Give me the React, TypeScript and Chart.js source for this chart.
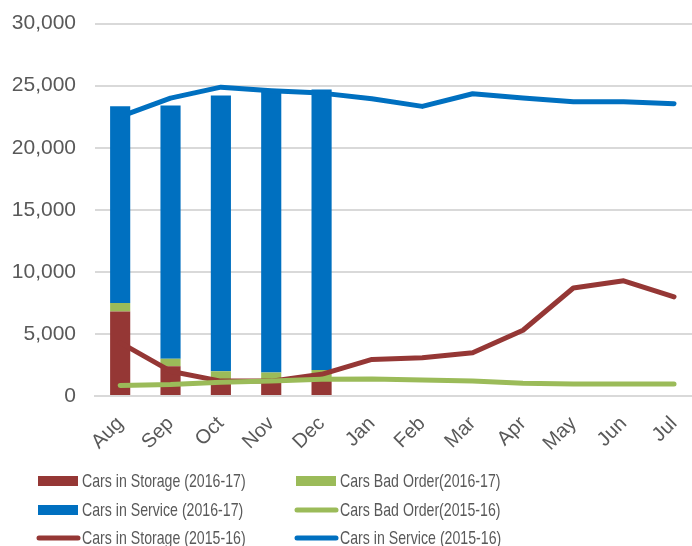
import React, { useEffect, useRef } from "react";
import { Chart, registerables } from "chart.js";

Chart.register(...registerables);

const months = ["Aug", "Sep", "Oct", "Nov", "Dec", "Jan", "Feb", "Mar", "Apr", "May", "Jun", "Jul"];

// 2016-17 stacked bars (only Aug–Dec reported)
const storage1617 = [6800, 2400, 1300, 1200, 1500, null, null, null, null, null, null, null];
const badOrder1617 = [700, 600, 700, 700, 600, null, null, null, null, null, null, null];
const service1617 = [15850, 20400, 22200, 22600, 22600, null, null, null, null, null, null, null];

// 2015-16 lines
const badOrder1516 = [850, 930, 1100, 1200, 1350, 1370, 1290, 1200, 1020, 970, 970, 970];
const storage1516 = [4300, 2000, 1200, 1200, 1750, 2950, 3080, 3480, 5300, 8700, 9280, 7990];
const service1516 = [22500, 24000, 24880, 24600, 24400, 23950, 23330, 24350, 24000, 23700, 23700, 23550];

const yTicks = [0, 5000, 10000, 15000, 20000, 25000, 30000];

const RED = "#953735";
const GREEN = "#9BBB59";
const BLUE = "#0070C0";
const TEXT = "#595959";
const GRID = "#D9D9D9";
const FONT = "'Liberation Sans', Arial, sans-serif";
const SHIFT = 8; // canvas is drawn 8px above the page top

const legendPlugin = {
  id: "gridLegend",
  afterDraw(chart: any) {
    const ctx = chart.ctx;
    const ds = chart.data.datasets;
    const colX = [38, 296];
    const rowY = [481, 510, 538].map((v) => v + SHIFT);
    ctx.save();
    ds.forEach((d: any, i: number) => {
      const col = i % 2;
      const row = Math.floor(i / 2);
      const x = colX[col];
      const y = rowY[row];
      if (d.type === "bar") {
        ctx.fillStyle = d.backgroundColor;
        ctx.fillRect(x, y - 5, 40, 10);
      } else {
        ctx.strokeStyle = d.borderColor;
        ctx.lineWidth = 5;
        ctx.lineCap = "round";
        ctx.beginPath();
        ctx.moveTo(x + 1, y);
        ctx.lineTo(x + 40, y);
        ctx.stroke();
      }
      ctx.save();
      ctx.fillStyle = TEXT;
      ctx.font = "18.5px " + FONT;
      ctx.textBaseline = "middle";
      ctx.textAlign = "left";
      ctx.translate(x + 44, y + 1);
      ctx.scale(0.765, 1);
      ctx.fillText(d.label, 0, 0);
      ctx.restore();
    });
    ctx.restore();
  },
};

export default function App() {
  const ref = useRef<HTMLCanvasElement | null>(null);
  useEffect(() => {
    if (!ref.current) return;
    const lineCommon = {
      type: "line" as const,
      borderWidth: 5,
      pointRadius: 0,
      tension: 0,
      borderCapStyle: "round" as const,
      borderJoinStyle: "round" as const,
      fill: false,
      order: 0,
    };
    const chart = new Chart(ref.current, {
      type: "bar",
      data: {
        labels: months,
        datasets: [
          { type: "bar", label: "Cars in Storage (2016-17)", data: storage1617, backgroundColor: RED, stack: "bars", order: 1 },
          { type: "bar", label: "Cars Bad Order(2016-17)", data: badOrder1617, backgroundColor: GREEN, stack: "bars", order: 1 },
          { type: "bar", label: "Cars in Service (2016-17)", data: service1617, backgroundColor: BLUE, stack: "bars", order: 1 },
          { ...lineCommon, label: "Cars Bad Order(2015-16)", data: badOrder1516, borderColor: GREEN, backgroundColor: GREEN, stack: "l1" },
          { ...lineCommon, label: "Cars in Storage (2015-16)", data: storage1516, borderColor: RED, backgroundColor: RED, stack: "l2" },
          { ...lineCommon, label: "Cars in Service (2015-16)", data: service1516, borderColor: BLUE, backgroundColor: BLUE, stack: "l3" },
        ] as any,
      },
      options: {
        responsive: false,
        animation: false,
        devicePixelRatio: 1,
        layout: { padding: { top: 16, left: 0, right: 0, bottom: 0 } },
        datasets: { bar: { barPercentage: 0.4, categoryPercentage: 1 } } as any,
        plugins: { legend: { display: false }, tooltip: { enabled: false } },
        scales: {
          x: {
            stacked: true,
            grid: { display: false, drawTicks: false },
            border: { display: true, color: GRID, width: 2 },
            ticks: {
              color: TEXT,
              font: { family: FONT, size: 20 },
              maxRotation: 45,
              minRotation: 45,
              padding: 16,
            },
            afterFit: (s: any) => { s.height = 150; },
          },
          y: {
            stacked: true,
            min: 0,
            max: 30000,
            grid: { color: GRID, lineWidth: 2, drawTicks: false },
            border: { display: false },
            afterBuildTicks: (s: any) => { s.ticks = yTicks.map((v) => ({ value: v })); },
            ticks: {
              color: TEXT,
              font: { family: FONT, size: 21 },
              padding: 19,
              callback: (v: any) => Number(v).toLocaleString("en-US"),
            },
            afterFit: (s: any) => { s.width = 95; },
          },
        },
      },
      plugins: [legendPlugin],
    });
    return () => chart.destroy();
  }, []);
  return (
    <div style={{ position: "fixed", left: 0, top: 0, width: 692, height: 546, overflow: "hidden", background: "#fff" }}>
      <canvas ref={ref} width={707} height={546 + SHIFT} style={{ display: "block", position: "absolute", left: 0, top: -SHIFT }} />
    </div>
  );
}
